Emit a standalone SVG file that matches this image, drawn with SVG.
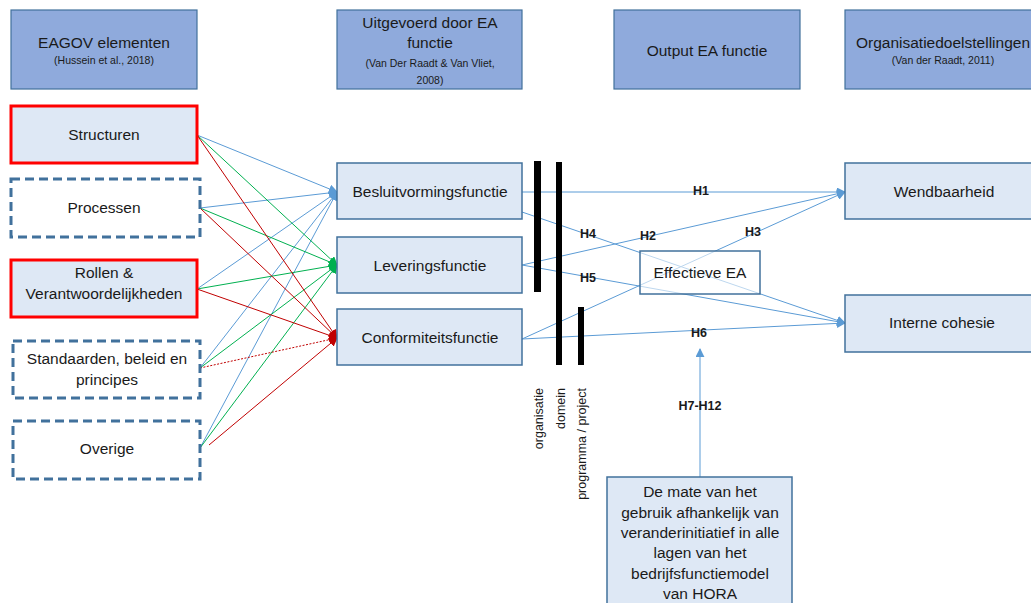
<svg xmlns="http://www.w3.org/2000/svg" width="1031" height="603" viewBox="0 0 1031 603">
  <style>
    text { font-family: "Liberation Sans", Arial, sans-serif; fill: #1a1a1a; text-anchor: middle; }
    .t { font-size: 15.5px; }
    .s { font-size: 10.5px; }
    .h { font-size: 12.5px; font-weight: bold; }
    .v { font-size: 12.5px; text-anchor: end; }
    .head { fill: #8faadc; stroke: #41719c; stroke-width: 1.2; }
    .box { fill: #dee8f5; stroke: #41719c; stroke-width: 1.5; }
    .red { fill: #dee8f5; stroke: #ff0000; stroke-width: 3; }
    .dash { fill: #ffffff; stroke: #41719c; stroke-width: 3; stroke-dasharray: 9 5; }
    .plain { fill: #ffffff; stroke: #41719c; stroke-width: 1.5; }
    .bar { fill: #000000; }
    .lb { stroke: #5b9bd5; stroke-width: 1; fill: none; marker-end: url(#ab); }
    .lg { stroke: #00b050; stroke-width: 1; fill: none; marker-end: url(#ag); }
    .lr { stroke: #c00000; stroke-width: 1; fill: none; marker-end: url(#ar); }
    .lo { stroke: #5b9bd5; stroke-width: 1; fill: none; }
    .lo.arrow { marker-end: url(#ab); }
  </style>
  <defs>
    <marker id="ab" viewBox="0 0 10 10" refX="9" refY="5" markerWidth="9" markerHeight="9" markerUnits="userSpaceOnUse" orient="auto">
      <path d="M0,0 L10,5 L0,10 z" fill="#5b9bd5"/>
    </marker>
    <marker id="ag" viewBox="0 0 10 10" refX="9" refY="5" markerWidth="9" markerHeight="9" markerUnits="userSpaceOnUse" orient="auto">
      <path d="M0,0 L10,5 L0,10 z" fill="#00b050"/>
    </marker>
    <marker id="ar" viewBox="0 0 10 10" refX="9" refY="5" markerWidth="9" markerHeight="9" markerUnits="userSpaceOnUse" orient="auto">
      <path d="M0,0 L10,5 L0,10 z" fill="#c00000"/>
    </marker>
  </defs>

  <!-- column headers -->
  <g id="hdr-eagov">
    <rect class="head" x="11" y="10" width="186" height="79"/>
    <text class="t" x="104" y="48">EAGOV elementen</text>
    <text class="s" x="104" y="64">(Hussein et al., 2018)</text>
  </g>
  <g id="hdr-uitgevoerd">
    <rect class="head" x="337" y="10" width="185" height="79"/>
    <text class="t" x="430" y="28">Uitgevoerd door EA</text>
    <text class="t" x="430" y="48">functie</text>
    <text class="s" x="430" y="67">(Van Der Raadt &amp; Van Vliet,</text>
    <text class="s" x="430" y="84">2008)</text>
  </g>
  <g id="hdr-output">
    <rect class="head" x="614" y="10" width="186" height="79"/>
    <text class="t" x="707" y="56">Output EA functie</text>
  </g>
  <g id="hdr-doelen">
    <rect class="head" x="845" y="10" width="196" height="79"/>
    <text class="t" x="943" y="48">Organisatiedoelstellingen</text>
    <text class="s" x="943" y="64">(Van der Raadt, 2011)</text>
  </g>

  <!-- connectors -->
  <g id="connectors">
    <!-- to Besluitvormingsfunctie -->
    <line class="lb" x1="197" y1="135" x2="337" y2="192"/>
    <line class="lb" x1="200" y1="208" x2="337" y2="192"/>
    <line class="lb" x1="197" y1="289" x2="337" y2="192"/>
    <line class="lb" x1="200" y1="368" x2="337" y2="192"/>
    <line class="lb" x1="200" y1="448" x2="337" y2="192"/>
    <!-- to Leveringsfunctie -->
    <line class="lg" x1="197" y1="135" x2="337" y2="265"/>
    <line class="lg" x1="200" y1="208" x2="337" y2="265"/>
    <line class="lg" x1="197" y1="289" x2="337" y2="265"/>
    <line class="lg" x1="200" y1="368" x2="337" y2="265"/>
    <line class="lg" x1="200" y1="448" x2="337" y2="265"/>
    <!-- to Conformiteitsfunctie -->
    <line class="lr" x1="197" y1="135" x2="337" y2="338"/>
    <line class="lr" x1="200" y1="208" x2="337" y2="338"/>
    <line class="lr" x1="197" y1="289" x2="337" y2="338"/>
    <line class="lr" x1="200" y1="368" x2="337" y2="338" stroke-dasharray="2 1.5"/>
    <line class="lr" x1="209" y1="445" x2="337" y2="338"/>
    <!-- functions to goals -->
    <line class="lo arrow" x1="522" y1="192" x2="845" y2="192"/>
    <line class="lo arrow" x1="522" y1="212" x2="845" y2="323"/>
    <line class="lo arrow" x1="522" y1="265" x2="845" y2="192"/>
    <line class="lo arrow" x1="522" y1="265" x2="845" y2="323"/>
    <line class="lo arrow" x1="522" y1="339" x2="845" y2="192"/>
    <line class="lo arrow" x1="522" y1="339" x2="845" y2="323"/>
    <line class="lo arrow" x1="700" y1="477" x2="700" y2="349"/>
  </g>

  <!-- EAGOV elements -->
  <g id="structuren">
    <rect class="red" x="11" y="106" width="186" height="57"/>
    <text class="t" x="104" y="140">Structuren</text>
  </g>
  <g id="processen">
    <rect class="dash" x="11" y="179" width="189" height="58"/>
    <text class="t" x="104" y="213">Processen</text>
  </g>
  <g id="rollen">
    <rect class="red" x="11" y="260" width="186" height="57"/>
    <text class="t" x="104" y="278">Rollen &amp;</text>
    <text class="t" x="104" y="299">Verantwoordelijkheden</text>
  </g>
  <g id="standaarden">
    <rect class="dash" x="13" y="341" width="187" height="57"/>
    <text class="t" x="107" y="364">Standaarden, beleid en</text>
    <text class="t" x="107" y="385">principes</text>
  </g>
  <g id="overige">
    <rect class="dash" x="13" y="421" width="187" height="58"/>
    <text class="t" x="107" y="454">Overige</text>
  </g>

  <!-- EA functions -->
  <g id="besluitvorming">
    <rect class="box" x="337" y="163" width="185" height="56"/>
    <text class="t" x="430" y="197">Besluitvormingsfunctie</text>
  </g>
  <g id="levering">
    <rect class="box" x="337" y="237" width="185" height="56"/>
    <text class="t" x="430" y="271">Leveringsfunctie</text>
  </g>
  <g id="conformiteit">
    <rect class="box" x="337" y="309" width="185" height="56"/>
    <text class="t" x="430" y="343">Conformiteitsfunctie</text>
  </g>

  <!-- level bars -->
  <g id="niveaus">
    <rect class="bar" x="534" y="161" width="7" height="131"/>
    <rect class="bar" x="556" y="162" width="6" height="203"/>
    <rect class="bar" x="578" y="307" width="6" height="58"/>
    <text class="v" transform="translate(543,388) rotate(-90)">organisatie</text>
    <text class="v" transform="translate(565,388) rotate(-90)">domein</text>
    <text class="v" transform="translate(586,388) rotate(-90)">programma / project</text>
  </g>

  <!-- output -->
  <g id="effectieve-ea">
    <rect class="plain" x="640" y="251" width="120" height="43" fill-opacity="0.6"/>
    <text class="t" x="700" y="278">Effectieve EA</text>
  </g>

  <!-- goals -->
  <g id="wendbaarheid">
    <rect class="box" x="845" y="163" width="196" height="56"/>
    <text class="t" x="944" y="197">Wendbaarheid</text>
  </g>
  <g id="cohesie">
    <rect class="box" x="845" y="295" width="196" height="57"/>
    <text class="t" x="942" y="328">Interne cohesie</text>
  </g>

  <!-- moderator -->
  <g id="hora">
    <rect class="box" x="607" y="477" width="185" height="140"/>
    <text class="t" x="700" y="497">De mate van het</text>
    <text class="t" x="700" y="518">gebruik afhankelijk van</text>
    <text class="t" x="700" y="538">veranderinitiatief in alle</text>
    <text class="t" x="700" y="558">lagen van het</text>
    <text class="t" x="700" y="579">bedrijfsfunctiemodel</text>
    <text class="t" x="700" y="599">van HORA</text>
  </g>

  <!-- hypothesis labels -->
  <g id="hypothesen">
    <text class="h" x="701" y="195">H1</text>
    <text class="h" x="648" y="240">H2</text>
    <text class="h" x="753" y="236">H3</text>
    <text class="h" x="588" y="238">H4</text>
    <text class="h" x="588" y="282">H5</text>
    <text class="h" x="699" y="337">H6</text>
    <text class="h" x="700" y="410">H7-H12</text>
  </g>
</svg>
